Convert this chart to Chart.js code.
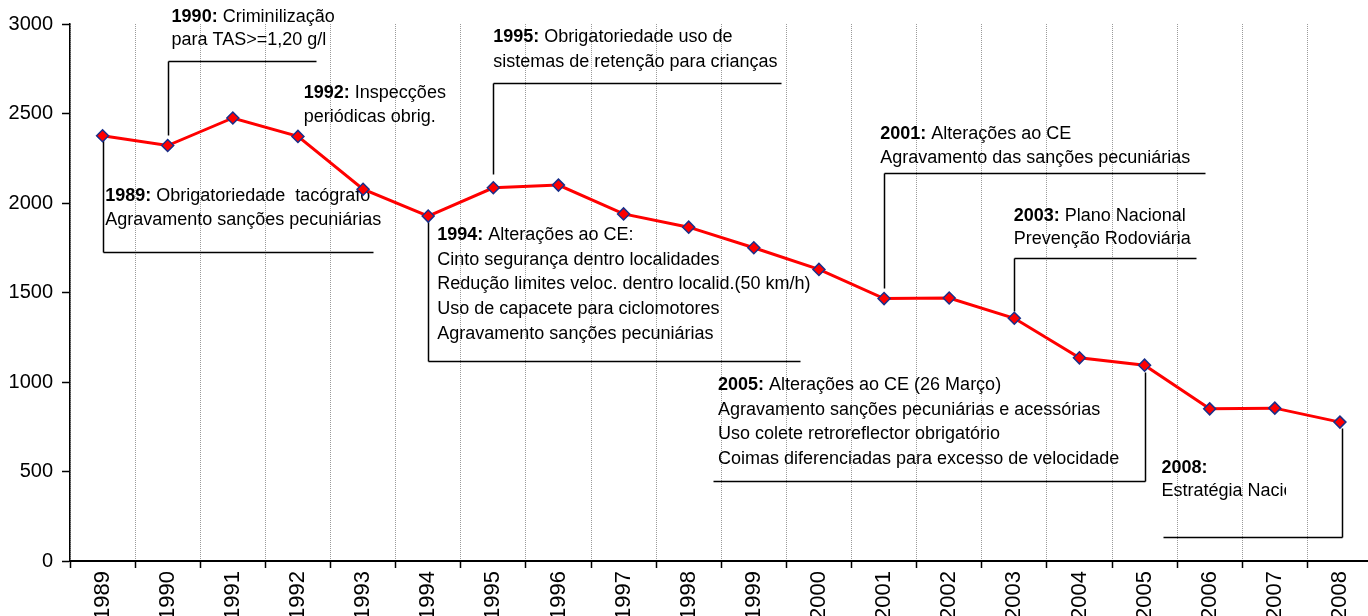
<!DOCTYPE html>
<html lang="pt">
<head>
  <meta charset="UTF-8">
  <title>Vítimas mortais 1989-2008</title>
  <script src="https://cdn.jsdelivr.net/npm/chart.js"></script>
  <style>
    body { margin: 0; overflow: hidden; background: #fff; }
    #chart { display: block; }
  </style>
</head>
<body>
  <canvas id="chart" width="1380" height="616"></canvas>
<script>
  const years = ['1989', '1990', '1991', '1992', '1993', '1994', '1995', '1996', '1997', '1998',
    '1999', '2000', '2001', '2002', '2003', '2004', '2005', '2006', '2007', '2008']
  const deaths = [2376, 2321, 2475, 2372, 2077, 1927, 2085, 2100, 1939, 1865,
    1750, 1629, 1466, 1469, 1356, 1135, 1094, 850, 854, 776]
  const yTicks = [0, 500, 1000, 1500, 2000, 2500, 3000]

  // callouts: x in category index units, y in chart values
  const notes = [
    { title: '1989:', lines: ['Obrigatoriedade  tacógrafo', 'Agravamento sanções pecuniárias'],
      tx: 0.04, ty: 2039, lh: 24, hx: [0, 4.16], hy: 1726, vx: 0, vy: [2376, 1726] },
    { title: '1990:', lines: ['Criminilização', 'para TAS>=1,20 g/l'],
      tx: 1.06, ty: 3039, lh: 23, hx: [1, 3.27], hy: 2793, vx: 1, vy: [2793, 2380] },
    { title: '1992:', lines: ['Inspecções', 'periódicas obrig.'],
      tx: 3.09, ty: 2615, lh: 24 },
    { title: '1994:', lines: ['Alterações ao CE:', 'Cinto segurança dentro localidades',
      'Redução limites veloc. dentro localid.(50 km/h)', 'Uso de capacete para ciclomotores',
      'Agravamento sanções pecuniárias'],
      tx: 5.14, ty: 1821, lh: 24.7, hx: [5, 10.71], hy: 1117, vx: 5, vy: [1905, 1117] },
    { title: '1995:', lines: ['Obrigatoriedade uso de', 'sistemas de retenção para crianças'],
      tx: 6.0, ty: 2927, lh: 25, hx: [6, 10.42], hy: 2670, vx: 6, vy: [2670, 2162] },
    { title: '2001:', lines: ['Alterações ao CE', 'Agravamento das sanções pecuniárias'],
      tx: 11.94, ty: 2385, lh: 24, hx: [12, 16.93], hy: 2168, vx: 12, vy: [2168, 1525] },
    { title: '2003:', lines: ['Plano Nacional', 'Prevenção Rodoviária'],
      tx: 13.99, ty: 1927, lh: 23, hx: [14, 16.79], hy: 1693, vx: 14, vy: [1693, 1397] },
    { title: '2005:', lines: ['Alterações ao CE (26 Março)', 'Agravamento sanções pecuniárias e acessórias',
      'Uso colete retroreflector obrigatório', 'Coimas diferenciadas para excesso de velocidade'],
      tx: 9.45, ty: 983, lh: 24.5, hx: [9.38, 16], hy: 447, vx: 16, vy: [1056, 447] },
    { title: '2008:', lines: ['', 'Estratégia Nacional de Segurança Rodoviária'],
      tx: 16.26, ty: 520, lh: 23, hx: [16.29, 19.03], hy: 134, vx: 19.03, vy: [743, 134], clip: 18.17 }
  ]

  const FONT = '"Liberation Sans", Arial, sans-serif'

  const calloutPlugin = {
    id: 'callouts',
    beforeDatasetsDraw(chart) {
      const ctx = chart.ctx
      const xs = chart.scales.x
      const ys = chart.scales.y
      const px = i => xs.getPixelForValue(0) + i * (xs.getPixelForValue(1) - xs.getPixelForValue(0))
      const py = v => ys.getPixelForValue(v)
      ctx.save()
      ctx.strokeStyle = '#000'
      ctx.lineWidth = 1.5
      notes.forEach(n => {
        if (n.hx) {
          ctx.beginPath()
          ctx.moveTo(Math.round(px(n.hx[0])) + 0.5, Math.round(py(n.hy)) + 0.5)
          ctx.lineTo(Math.round(px(n.hx[1])) + 0.5, Math.round(py(n.hy)) + 0.5)
          ctx.moveTo(Math.round(px(n.vx)) + 0.5, Math.round(py(n.vy[0])) + 0.5)
          ctx.lineTo(Math.round(px(n.vx)) + 0.5, Math.round(py(n.vy[1])) + 0.5)
          ctx.stroke()
        }
        ctx.save()
        if (n.clip) {
          ctx.beginPath()
          ctx.rect(0, 0, px(n.clip), chart.height)
          ctx.clip()
        }
        const x0 = px(n.tx)
        let y = py(n.ty)
        ctx.fillStyle = '#000'
        ctx.textBaseline = 'middle'
        ctx.textAlign = 'left'
        n.lines.forEach((line, k) => {
          let x = x0
          if (k === 0) {
            ctx.font = 'bold 18px ' + FONT
            ctx.fillText(n.title, x, y)
            x += ctx.measureText(n.title + ' ').width
          }
          ctx.font = '18px ' + FONT
          ctx.fillText(line, x, y)
          y += n.lh
        })
        ctx.restore()
      })
      ctx.restore()
    }
  }

  new Chart(document.getElementById('chart'), {
    type: 'line',
    data: {
      labels: years,
      datasets: [{
        data: deaths,
        borderColor: '#ff0000',
        borderWidth: 3,
        tension: 0,
        pointStyle: 'rectRot',
        pointRadius: 6,
        pointBackgroundColor: '#ff0000',
        pointBorderColor: '#1a2f8a',
        pointBorderWidth: 1.5
      }]
    },
    options: {
      responsive: false,
      devicePixelRatio: 1,
      animation: false,
      layout: { padding: { top: 24, right: 6, left: 0, bottom: 0 } },
      plugins: { legend: { display: false }, tooltip: { enabled: false } },
      scales: {
        x: {
          offset: true,
          grid: {
            offset: true,
            color: '#9a9a9a',
            lineWidth: 1,
            tickColor: '#000',
            tickLength: 7,
            tickWidth: 1.5,
            tickBorderDash: [1, 0]
          },
          border: { color: '#000', width: 2, dash: [1, 1] },
          ticks: {
            color: '#000',
            font: { family: FONT, size: 22 },
            minRotation: 90,
            maxRotation: 90,
            padding: 3
          },
          afterFit(scale) { scale.height = 55 }
        },
        y: {
          min: 0,
          max: 3000,
          afterBuildTicks(scale) { scale.ticks = yTicks.map(v => ({ value: v })) },
          grid: {
            drawOnChartArea: false,
            tickColor: '#000',
            tickLength: 8,
            tickWidth: 1.5
          },
          border: { color: '#000', width: 1.5 },
          ticks: {
            color: '#000',
            font: { family: FONT, size: 20 },
            padding: 9,
            callback: v => String(v)
          },
          afterFit(scale) { scale.width = 70 }
        }
      }
    },
    plugins: [calloutPlugin]
  })
</script>
</body>
</html>
